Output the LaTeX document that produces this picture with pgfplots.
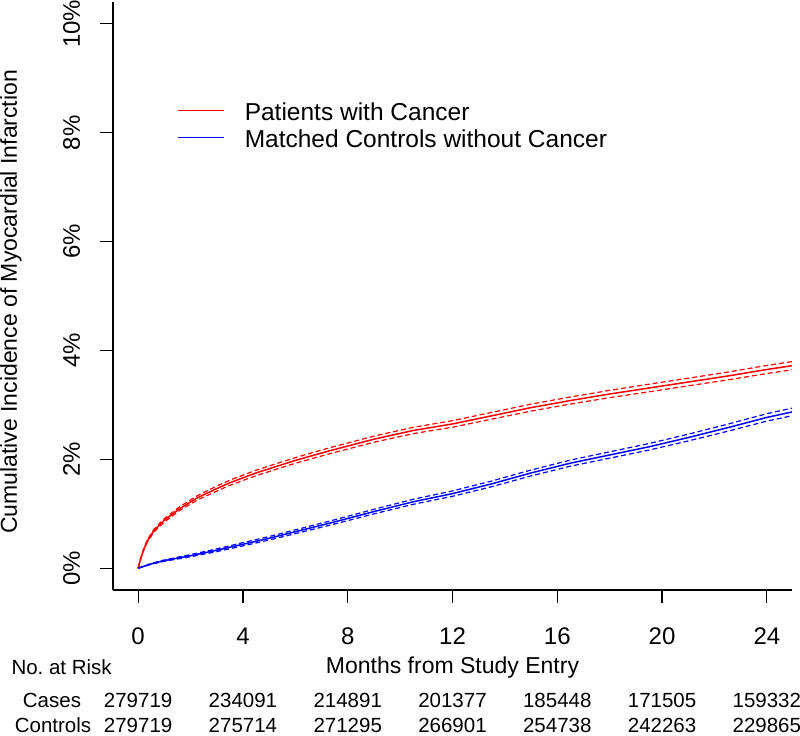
\documentclass[border=0pt]{standalone}
\usepackage{pgfplots}
\pgfplotsset{compat=1.18}
\usepackage{pgfplotstable}
\usepackage{fontspec}
\setmainfont{Liberation Sans}

% cumulative incidence (%) with lower / upper confidence limits
\pgfplotstableread{
x     est   lo     hi
0     0     0      0
0.1   0.18  0.17   0.19
0.2   0.33  0.315  0.345
0.35  0.50  0.48   0.52
0.6   0.69  0.665  0.715
1.0   0.88  0.85   0.91
1.6   1.10  1.065  1.135
2.25  1.29  1.25   1.33
2.9   1.44  1.395  1.485
3.5   1.57  1.522  1.618
4.5   1.75  1.70   1.80
6     1.98  1.928  2.032
7.33  2.16  2.105  2.215
9     2.37  2.314  2.426
10.5  2.53  2.472  2.588
12    2.65  2.59   2.71
13.5  2.80  2.738  2.862
15    2.95  2.886  3.014
16.5  3.08  3.015  3.145
18    3.20  3.133  3.267
19.5  3.31  3.24   3.38
21    3.42  3.35   3.49
22.5  3.53  3.458  3.602
24    3.65  3.576  3.724
24.96 3.72  3.645  3.795
}\cancer

\pgfplotstableread{
x     est   lo     hi
0     0     0      0
0.5   0.08  0.072  0.088
1     0.14  0.128  0.152
2     0.23  0.21   0.25
3     0.33  0.305  0.355
4     0.44  0.41   0.47
5     0.55  0.518  0.582
6     0.67  0.635  0.705
7.33  0.83  0.792  0.868
9     1.04  0.998  1.082
10.5  1.22  1.174  1.266
12    1.37  1.32   1.42
13.5  1.55  1.498  1.602
15    1.75  1.696  1.804
16.5  1.93  1.874  1.986
18    2.08  2.022  2.138
19.5  2.23  2.17   2.29
21    2.40  2.338  2.462
22.5  2.58  2.515  2.645
24    2.77  2.702  2.838
24.96 2.87  2.80   2.94
}\controls

\newcommand{\risk}{\fontsize{20.5bp}{24bp}\selectfont}

\begin{document}
\begin{tikzpicture}
\useasboundingbox (0,0) rectangle (800bp,736bp);
\begin{axis}[
  at={(113bp,146bp)}, anchor=south west,
  scale only axis, width=679bp, height=588bp,
  xmin=-0.96, xmax=24.96, ymin=-0.4, ymax=10.4,
  axis x line*=bottom, axis y line*=left,
  axis line style={line width=1.2bp},
  xtick={0,4,...,24}, ytick={0,2,...,10},
  tick align=outside, major tick length=13bp,
  tick style={black, line width=1.2bp},
  /pgf/number format/assume math mode=true,
  yticklabel={\pgfmathprintnumber{\tick}\%},
  tick label style={font=\fontsize{24bp}{28bp}\selectfont},
  xticklabel style={anchor=base, yshift=-42bp},
  yticklabel style={xshift=-20bp, rotate=90, anchor=base},
  xlabel={Months from Study Entry},
  ylabel={Cumulative Incidence of Myocardial Infarction},
  label style={font=\fontsize{23bp}{27bp}\selectfont},
  xlabel style={at={(axis description cs:0.5,-0.1412)}, anchor=base},
  ylabel style={at={(axis description cs:-0.1414,0.49)}, anchor=base},
  legend style={draw=none, fill=none, inner sep=0pt,
    at={(axis description cs:0.094,0.829)}, anchor=north west,
    font=\fontsize{24.5bp}{28bp}\selectfont, row sep=3bp,
    nodes={inner sep=1bp, text height=17bp, text depth=5bp}},
  legend cell align=left,
  legend image code/.code={\draw[#1] (0bp,4bp) -- (46bp,4bp); \path[draw=none] (66bp,0bp);},
  clip=false,
]
\addplot[red, line width=1.5bp] table[x=x, y=est] {\cancer};
\addlegendentry{Patients with Cancer}
\addplot[blue, line width=1.5bp] table[x=x, y=est] {\controls};
\addlegendentry{Matched Controls without Cancer}
\addplot[red, line width=1.2bp, dash pattern=on 5bp off 3bp, forget plot] table[x=x, y=lo] {\cancer};
\addplot[red, line width=1.2bp, dash pattern=on 5bp off 3bp, forget plot] table[x=x, y=hi] {\cancer};
\addplot[blue, line width=1.2bp, dash pattern=on 5bp off 3bp, forget plot] table[x=x, y=lo] {\controls};
\addplot[blue, line width=1.2bp, dash pattern=on 5bp off 3bp, forget plot] table[x=x, y=hi] {\controls};

% numbers at risk, aligned with the month ticks
\node[anchor=base, font=\risk] at (axis cs:0,-2.553)  {279719};
\node[anchor=base, font=\risk] at (axis cs:4,-2.553)  {234091};
\node[anchor=base, font=\risk] at (axis cs:8,-2.553)  {214891};
\node[anchor=base, font=\risk] at (axis cs:12,-2.553) {201377};
\node[anchor=base, font=\risk] at (axis cs:16,-2.553) {185448};
\node[anchor=base, font=\risk] at (axis cs:20,-2.553) {171505};
\node[anchor=base, font=\risk] at (axis cs:24,-2.553) {159332};
\node[anchor=base, font=\risk] at (axis cs:0,-3.012)  {279719};
\node[anchor=base, font=\risk] at (axis cs:4,-3.012)  {275714};
\node[anchor=base, font=\risk] at (axis cs:8,-3.012)  {271295};
\node[anchor=base, font=\risk] at (axis cs:12,-3.012) {266901};
\node[anchor=base, font=\risk] at (axis cs:16,-3.012) {254738};
\node[anchor=base, font=\risk] at (axis cs:20,-3.012) {242263};
\node[anchor=base, font=\risk] at (axis cs:24,-3.012) {229865};
\end{axis}
\node[anchor=base west, font=\risk] at (8bp,61bp) {No.\ at Risk};
\node[anchor=base, font=\risk] at (52bp,29bp) {Cases};
\node[anchor=base, font=\risk] at (53bp,4bp) {Controls};
\end{tikzpicture}
\end{document}
